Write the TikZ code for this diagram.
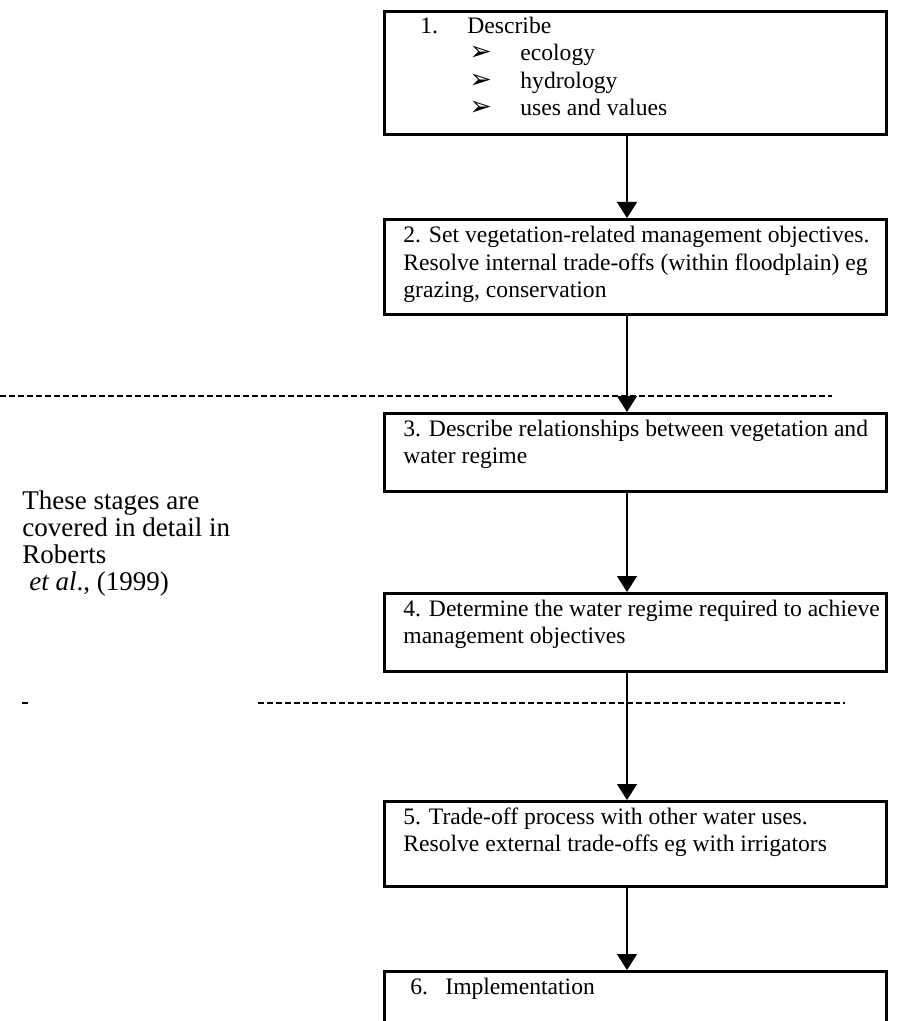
\documentclass[tikz,border=0pt]{standalone}
\usepackage{fontspec}
\setmainfont{Liberation Serif}
\newfontfamily\symfont{DejaVu Sans}
\usetikzlibrary{arrows.meta,calc}
\begin{document}
\begin{tikzpicture}[x=0.5pt,y=-0.5pt,
  stage/.style={draw,line width=1.3pt,anchor=north west,inner sep=0pt,minimum width=251pt},
  stagetext/.style={anchor=base west,align=left,inner sep=0pt,font=\fontsize{11.8}{13.8}\selectfont},
  sidetext/.style={anchor=base west,align=left,inner sep=0pt,font=\fontsize{13.5}{13.5}\selectfont},
  bullet/.style={anchor=base west,inner sep=0pt,font=\symfont\fontsize{13.5}{13.8}\selectfont},
  flow/.style={-{Triangle[width=10pt,length=8pt]},line width=0.6pt},
  sep/.style={dash pattern=on 3pt off 1.5pt,line width=0.8pt}]
\useasboundingbox (0,0) rectangle (904,1021);
\clip (0,0) rectangle (904,1021);

% stage boxes
\node[stage,minimum height=61.5pt] (b1) at (383,10) {};
\node[stage,minimum height=47.5pt] (b2) at (383,218) {};
\node[stage,minimum height=39pt]   (b3) at (383,412) {};
\node[stage,minimum height=39pt]   (b4) at (383,592) {};
\node[stage,minimum height=42.5pt] (b5) at (383,800) {};
\node[stage,minimum height=40pt]   (b6) at (383,970) {};

% stage 1 text (multi-line nodes sit on the baseline of their last line)
\node[stagetext] (t1n) at (420,33.5) {1.};
\node[stagetext] (t1)  at (467,33.5) {Describe};
\node[bullet] (k1) at (469,61)   {➢};
\node[bullet] (k2) at (469,88.5) {➢};
\node[bullet] (k3) at (469,116)  {➢};
\node[stagetext] (i1) at (520,61)   {ecology};
\node[stagetext] (i2) at (520,88.5) {hydrology};
\node[stagetext] (i3) at (520,116)  {uses and values};

% stage 2 to 6 text
\node[stagetext] (t2) at (403,298) {2. Set vegetation-related management objectives.\\Resolve internal trade-offs (within floodplain) eg\\grazing, conservation};
\node[stagetext] (t3) at (403,463.6) {3. Describe relationships between vegetation and\\water regime};
\node[stagetext] (t4) at (403,643.6) {4. Determine the water regime required to achieve\\management objectives};
\node[stagetext] (t5) at (403,851.6) {5. Trade-off process with other water uses.\\Resolve external trade-offs eg with irrigators};
\node[stagetext] (t6n) at (410,994) {6.};
\node[stagetext] (t6)  at (445,994) {Implementation};

% side note
\node[sidetext] (note) at (22,590) {These stages are\\covered in detail in\\Roberts\\\hspace*{3.5pt}\textit{et al}., (1999)};

% separators
\coordinate (s1a) at (0,396);   \coordinate (s1b) at (832,396);
\coordinate (s2a) at (22,703);  \coordinate (s2b) at (28,703);
\coordinate (s2c) at (258,703); \coordinate (s2d) at (845,703);
\draw[sep] (s1a) -- (s1b);
\draw[line width=0.8pt] (s2a) -- (s2b);
\draw[sep] (s2c) -- (s2d);

% flow arrows
\coordinate (ax) at (627,0);
\draw[flow] (b1.south -| ax) -- (b2.north -| ax);
\draw[flow] (b2.south -| ax) -- (b3.north -| ax);
\draw[flow] (b3.south -| ax) -- (b4.north -| ax);
\draw[flow] (b4.south -| ax) -- (b5.north -| ax);
\draw[flow] (b5.south -| ax) -- (b6.north -| ax);
\end{tikzpicture}
\end{document}
